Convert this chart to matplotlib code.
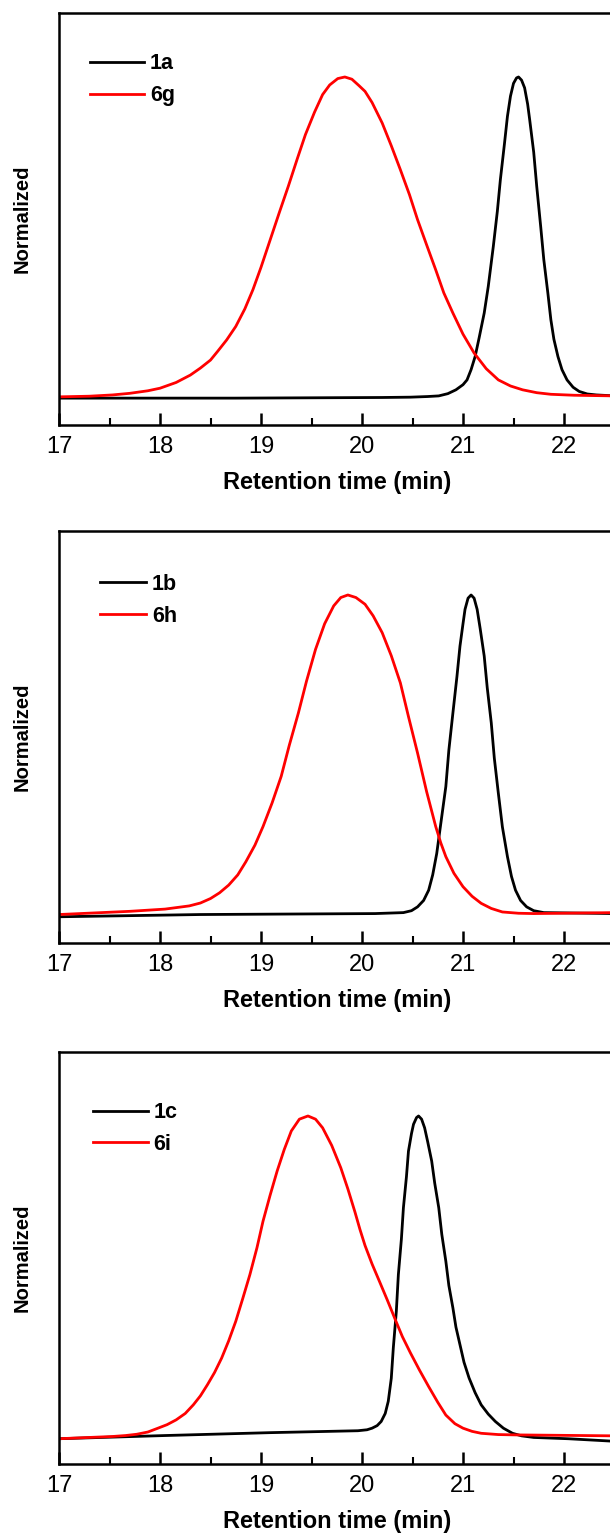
import matplotlib
matplotlib.use('Agg')
import matplotlib.pyplot as plt
from matplotlib.ticker import MultipleLocator

plt.rcParams['font.family'] = ['Liberation Sans', 'DejaVu Sans']

x_ticks = [17, 18, 19, 20, 21, 22]

# panel 1: 1a / 6g
t_6g = [17.0, 17.3, 17.53, 17.7, 17.88, 18.0, 18.16, 18.3, 18.40, 18.5, 18.57, 18.66, 18.75, 18.84,
        18.92, 19.0, 19.09, 19.18, 19.27, 19.36, 19.44, 19.53, 19.61, 19.68, 19.76, 19.83, 19.90,
        19.97, 20.03, 20.10, 20.20, 20.29, 20.38, 20.47, 20.55, 20.64, 20.73, 20.81, 20.90, 21.0,
        21.11, 21.23, 21.35, 21.47, 21.59, 21.73, 21.87, 22.1, 22.5]
y_6g = [0.0, 0.002, 0.006, 0.011, 0.019, 0.027, 0.045, 0.068, 0.09, 0.115, 0.142, 0.178, 0.22, 0.275,
        0.335, 0.405, 0.49, 0.575, 0.658, 0.745, 0.82, 0.89, 0.945, 0.975, 0.995, 1.0, 0.993,
        0.973, 0.955, 0.92, 0.856, 0.785, 0.71, 0.632, 0.554, 0.475, 0.397, 0.325, 0.262, 0.196,
        0.137, 0.088, 0.053, 0.034, 0.022, 0.013, 0.008, 0.005, 0.003]
t_1a = [17.0, 18.75, 20.2, 20.48, 20.65, 20.76, 20.85, 20.93, 21.0, 21.04, 21.08, 21.12, 21.16, 21.21,
        21.25, 21.30, 21.34, 21.37, 21.41, 21.44, 21.47, 21.50, 21.53, 21.55, 21.58, 21.61, 21.64,
        21.66, 21.70, 21.73, 21.77, 21.80, 21.84, 21.87, 21.90, 21.94, 21.98, 22.03, 22.09, 22.15,
        22.23, 22.32, 22.5]
y_1a = [-0.004, -0.004, -0.002, -0.001, 0.001, 0.003, 0.01, 0.022, 0.038, 0.053, 0.085, 0.126, 0.185,
        0.262, 0.345, 0.47, 0.58, 0.679, 0.79, 0.877, 0.94, 0.98, 0.997, 1.0, 0.99, 0.966, 0.915,
        0.867, 0.765, 0.658, 0.53, 0.429, 0.325, 0.241, 0.18, 0.126, 0.085, 0.053, 0.03, 0.017,
        0.009, 0.006, 0.003]

# panel 2: 1b / 6h
t_6h = [17.0, 17.35, 17.70, 18.05, 18.29, 18.40, 18.50, 18.59, 18.68, 18.77, 18.85, 18.94, 19.02,
        19.11, 19.20, 19.28, 19.37, 19.45, 19.54, 19.63, 19.72, 19.79, 19.86, 19.94, 20.03, 20.11,
        20.20, 20.29, 20.38, 20.46, 20.55, 20.64, 20.73, 20.78, 20.83, 20.91, 21.00, 21.09, 21.18,
        21.28, 21.39, 21.55, 21.70, 22.5]
y_6h = [0.001, 0.006, 0.011, 0.018, 0.028, 0.037, 0.051, 0.069, 0.093, 0.125, 0.166, 0.218, 0.276,
        0.35, 0.433, 0.53, 0.631, 0.73, 0.83, 0.91, 0.966, 0.992, 1.0, 0.992, 0.971, 0.935,
        0.882, 0.81, 0.725, 0.62, 0.506, 0.385, 0.276, 0.225, 0.182, 0.13, 0.088, 0.058, 0.036,
        0.02, 0.009, 0.005, 0.004, 0.007]
t_1b = [17.0, 18.40, 20.13, 20.41, 20.49, 20.55, 20.61, 20.66, 20.70, 20.74, 20.78, 20.83, 20.86,
        20.90, 20.94, 20.97, 21.00, 21.02, 21.05, 21.08, 21.11, 21.14, 21.17, 21.21, 21.24, 21.28,
        21.31, 21.35, 21.39, 21.44, 21.48, 21.52, 21.57, 21.63, 21.70, 21.80, 22.5]
y_1b = [-0.006, 0.001, 0.004, 0.007, 0.013, 0.025, 0.045, 0.077, 0.125, 0.192, 0.285, 0.401, 0.515,
        0.631, 0.745, 0.84, 0.91, 0.955, 0.99, 1.0, 0.99, 0.955, 0.895, 0.809, 0.71, 0.6,
        0.49, 0.38, 0.275, 0.182, 0.12, 0.077, 0.045, 0.025, 0.013, 0.007, 0.004]

# panel 3: 1c / 6i
t_6i = [17.0, 17.3, 17.53, 17.66, 17.77, 17.88, 17.98, 18.07, 18.16, 18.25, 18.33, 18.40, 18.47,
        18.54, 18.61, 18.68, 18.75, 18.82, 18.89, 18.96, 19.02, 19.09, 19.16, 19.23, 19.30, 19.38,
        19.465, 19.54, 19.61, 19.70, 19.79, 19.86, 19.93, 19.98, 20.03, 20.10, 20.17, 20.25, 20.33,
        20.40, 20.48, 20.57, 20.66, 20.75, 20.83, 20.92, 21.00, 21.09, 21.18, 21.35, 21.52, 22.5]
y_6i = [-0.009, -0.005, -0.002, 0.001, 0.005, 0.012, 0.024, 0.035, 0.05, 0.07, 0.097, 0.125, 0.16,
        0.198, 0.243, 0.297, 0.358, 0.43, 0.504, 0.588, 0.671, 0.752, 0.828, 0.895, 0.953, 0.99,
        1.0, 0.99, 0.963, 0.908, 0.838, 0.772, 0.7, 0.645, 0.595, 0.537, 0.485, 0.425, 0.363,
        0.31, 0.259, 0.205, 0.154, 0.105, 0.065, 0.038, 0.024, 0.014, 0.008, 0.004, 0.003, 0.0]
t_1c = [17.0, 18.05, 19.09, 19.96, 20.05, 20.10, 20.15, 20.19, 20.23, 20.26, 20.29, 20.31, 20.34,
        20.36, 20.39, 20.41, 20.44, 20.46, 20.49, 20.51, 20.54, 20.56, 20.59, 20.62, 20.65, 20.69,
        20.72, 20.76, 20.79, 20.83, 20.86, 20.90, 20.93, 20.97, 21.01, 21.06, 21.12, 21.18, 21.25,
        21.32, 21.40, 21.49, 21.58, 21.70, 22.04, 22.5]
y_1c = [-0.009, 0.001, 0.01, 0.016, 0.019, 0.024, 0.032, 0.045, 0.07, 0.108, 0.18, 0.275, 0.39,
        0.504, 0.615, 0.713, 0.81, 0.89, 0.945, 0.974, 0.995, 1.0, 0.99, 0.963, 0.92, 0.859,
        0.79, 0.713, 0.63, 0.546, 0.47, 0.4, 0.34, 0.285, 0.23, 0.181, 0.135, 0.097, 0.068,
        0.045, 0.024, 0.008, 0.0, -0.005, -0.009, -0.017]

panels = [
    (('1a', t_1a, y_1a), ('6g', t_6g, y_6g)),
    (('1b', t_1b, y_1b), ('6h', t_6h, y_6h)),
    (('1c', t_1c, y_1c), ('6i', t_6i, y_6i)),
]

W, H = 610, 1540
fig = plt.figure(figsize=(W / 100, H / 100), dpi=100)

x_min, x_max = 17, 22.5
px_per_min = 101
ax_left = 59
ax_w = (x_max - x_min) * px_per_min
ax_h = 412
bottoms = [425, 943, 1464]           # x-axis line, pixels from top
legend_xy = [(0.055, 0.838), (0.074, 0.832), (0.061, 0.814)]
handle_len = [2.55, 2.15, 2.55]

for (black, red), b, lxy, hl in zip(panels, bottoms, legend_xy, handle_len):
    ax = fig.add_axes([ax_left / W, 1 - b / H, ax_w / W, ax_h / H])
    ax.plot(black[1], black[2], color='black', lw=2.0, label=black[0])
    ax.plot(red[1], red[2], color='red', lw=2.0, label=red[0])
    ax.set_xlim(x_min, x_max)
    ax.set_ylim(-0.088, 1.2)

    ax.set_xticks(x_ticks)
    ax.xaxis.set_minor_locator(MultipleLocator(0.5))
    ax.tick_params(axis='x', which='major', direction='in', length=9, width=1.8,
                   labelsize=17, pad=8)
    ax.tick_params(axis='x', which='minor', direction='in', length=5, width=1.5)
    ax.tick_params(axis='y', which='both', left=False, labelleft=False)
    for s in ax.spines.values():
        s.set_linewidth(1.8)

    ax.set_xlabel('Retention time (min)', fontsize=17, fontweight='bold', labelpad=9)
    ax.set_ylabel('Normalized', fontsize=14.5, fontweight='bold')
    ax.yaxis.set_label_coords(-0.0486, 0.5)

    ax.legend(loc='center left', bbox_to_anchor=lxy, frameon=False,
              borderpad=0, borderaxespad=0, handlelength=hl,
              handletextpad=0.25, labelspacing=0.5,
              prop={'size': 15.5, 'weight': 'bold'})

fig.savefig('out.png', dpi=100)
